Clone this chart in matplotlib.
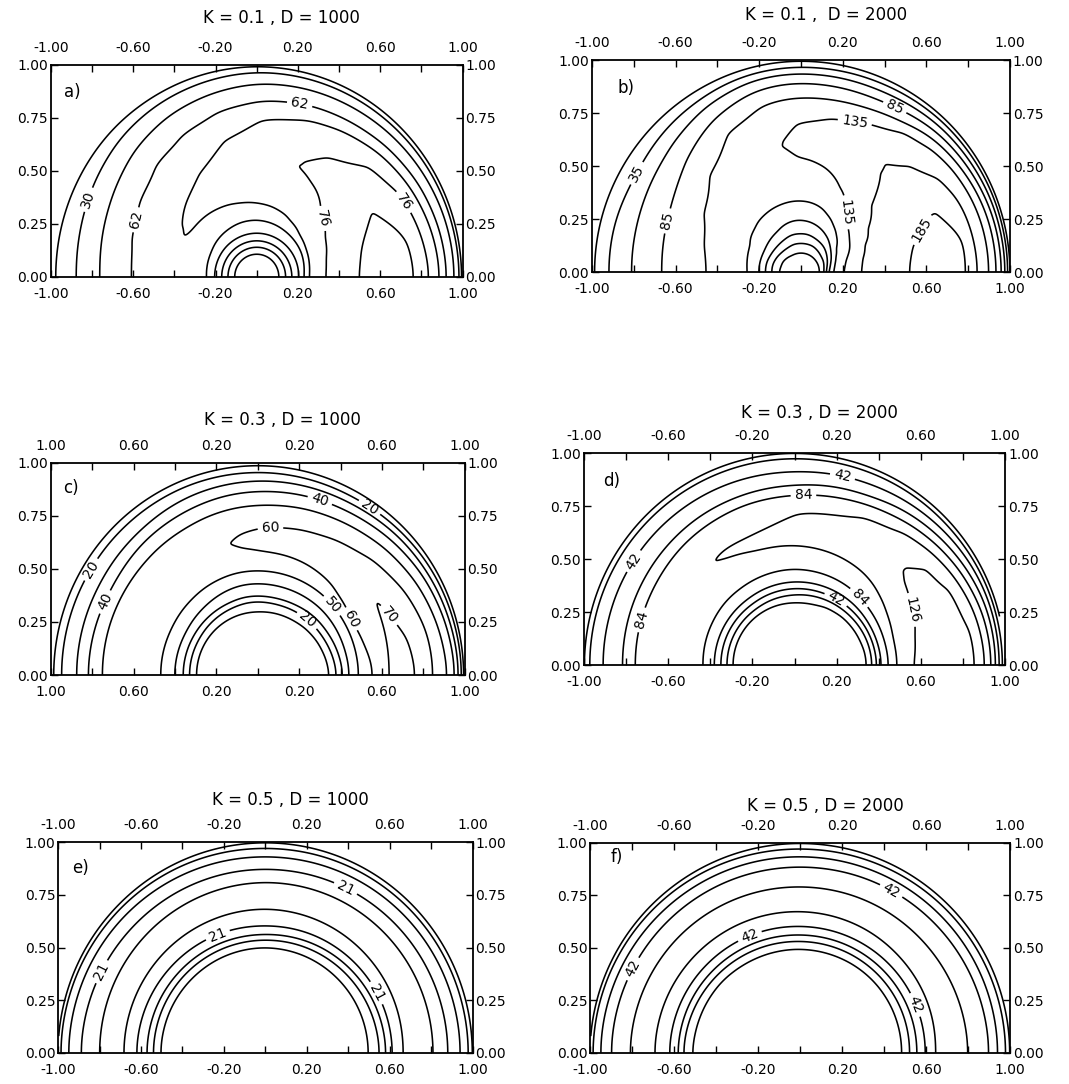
import numpy as np
import matplotlib
matplotlib.use("Agg")
import matplotlib.pyplot as plt

# ---- data ---------------------------------------------------------------
# each panel: ray angles (deg), and along every ray the radii (r) where the
# field takes the listed values (contour crossings + extrema)

titles = ["K = 0.1 , D = 1000", "K = 0.1 ,  D = 2000", "K = 0.3 , D = 1000",
          "K = 0.3 , D = 2000", "K = 0.5 , D = 1000", "K = 0.5 , D = 2000"]
tags = ["a)", "b)", "c)", "d)", "e)", "f)"]

# panel a  K=0.1 D=1000
a_levels = [-2, 14, 30, 46, 62, 69, 76, 83]
a_theta = [0, 15, 30, 45, 60, 72, 90, 105, 120, 135, 150, 165, 180]
a_r = [
    [0, .11, .14, .17, .205, .225, .25, .33, .49, .63, .77, .84, .89, .925, .96, .985, .997, 1],
    [0, .11, .14, .17, .205, .235, .26, .345, .52, .63, .75, .82, .875, .915, .955, .982, .996, 1],
    [0, .11, .14, .17, .205, .245, .27, .38, .64, .795, .855, .90, .945, .978, .995, 1],
    [0, .11, .14, .17, .205, .25, .285, .43, .60, .75, .83, .88, .935, .973, .995, 1],
    [0, .11, .14, .17, .205, .255, .31, .52, .59, .66, .80, .86, .925, .97, .995, 1],
    [0, .11, .14, .17, .205, .26, .33, .56, .78, .85, .92, .968, .995, 1],
    [0, .11, .14, .17, .205, .265, .345, .54, .74, .83, .91, .965, .995, 1],
    [0, .11, .14, .17, .205, .265, .355, .50, .66, .80, .89, .955, .993, 1],
    [0, .11, .14, .17, .205, .26, .37, .46, .56, .76, .87, .945, .99, 1],
    [0, .11, .14, .17, .205, .255, .38, .435, .49, .72, .84, .93, .99, 1],
    [0, .11, .14, .17, .205, .245, .385, .40, .42, .67, .80, .905, .985, 1],
    [0, .11, .14, .17, .205, .24, .42, .635, .775, .885, .982, 1],
    [0, .11, .14, .17, .205, .235, .42, .61, .76, .875, .98, 1],
]
a_v = [
    [-20, -2, 14, 30, 46, 62, 69, 76, 83, 88, 83, 76, 69, 62, 46, 30, 14, 0],
    [-20, -2, 14, 30, 46, 62, 69, 76, 83, 87, 83, 76, 69, 62, 46, 30, 14, 0],
    [-20, -2, 14, 30, 46, 62, 69, 76, 82.5, 76, 69, 62, 46, 30, 14, 0],
    [-20, -2, 14, 30, 46, 62, 69, 76, 79, 76, 69, 62, 46, 30, 14, 0],
    [-20, -2, 14, 30, 46, 62, 69, 76, 77.5, 76, 69, 62, 46, 30, 14, 0],
    [-20, -2, 14, 30, 46, 62, 69, 75.8, 69, 62, 46, 30, 14, 0],
    [-20, -2, 14, 30, 46, 62, 69, 73, 69, 62, 46, 30, 14, 0],
    [-20, -2, 14, 30, 46, 62, 69, 72, 69, 62, 46, 30, 14, 0],
    [-20, -2, 14, 30, 46, 62, 69, 71, 69, 62, 46, 30, 14, 0],
    [-20, -2, 14, 30, 46, 62, 69, 70.5, 69, 62, 46, 30, 14, 0],
    [-20, -2, 14, 30, 46, 62, 69, 69.8, 69, 62, 46, 30, 14, 0],
    [-20, -2, 14, 30, 46, 62, 66, 62, 46, 30, 14, 0],
    [-20, -2, 14, 30, 46, 62, 65, 62, 46, 30, 14, 0],
]

# panel b  K=0.1 D=2000
b_levels = [10, 35, 60, 85, 110, 135, 160, 185]
b_theta = [0, 15, 25, 35, 45, 55, 65, 80, 95, 105, 120, 135, 150, 165, 180]
b_r = [
    [0, .09, .11, .12, .13, .15, .20, .28, .51, .65, .79, .845, .90, .935, .96, .977, .99, .999, 1],
    [0, .09, .115, .13, .145, .165, .22, .30, .55, .68, .79, .835, .895, .93, .955, .972, .988, .998, 1],
    [0, .09, .12, .14, .16, .18, .26, .33, .70, .82, .885, .92, .945, .967, .986, .998, 1],
    [0, .09, .12, .15, .175, .20, .28, .38, .60, .79, .87, .905, .935, .96, .982, .998, 1],
    [0, .09, .125, .16, .195, .24, .31, .46, .60, .72, .85, .89, .925, .955, .98, .998, 1],
    [0, .09, .13, .165, .21, .27, .36, .65, .82, .855, .905, .945, .975, .997, 1],
    [0, .09, .135, .17, .225, .30, .44, .60, .77, .835, .89, .935, .97, .997, 1],
    [0, .09, .135, .18, .24, .33, .52, .63, .74, .825, .89, .935, .967, .996, 1],
    [0, .09, .135, .18, .245, .335, .54, .62, .70, .82, .89, .935, .965, .996, 1],
    [0, .09, .135, .18, .24, .33, .60, .805, .88, .93, .962, .995, 1],
    [0, .09, .13, .17, .22, .32, .53, .74, .83, .90, .945, .992, 1],
    [0, .095, .13, .165, .21, .30, .46, .63, .76, .86, .93, .99, 1],
    [0, .10, .135, .165, .20, .27, .40, .54, .70, .83, .91, .99, 1],
    [0, .10, .14, .17, .20, .26, .37, .48, .675, .815, .92, .99, 1],
    [0, .105, .14, .17, .20, .25, .35, .45, .665, .81, .92, .99, 1],
]
b_v = [
    [-30, 10, 35, 60, 85, 110, 135, 160, 185, 200, 185, 160, 135, 110, 85, 60, 35, 10, 0],
    [-30, 10, 35, 60, 85, 110, 135, 160, 185, 195, 185, 160, 135, 110, 85, 60, 35, 10, 0],
    [-30, 10, 35, 60, 85, 110, 135, 160, 185, 160, 135, 110, 85, 60, 35, 10, 0],
    [-30, 10, 35, 60, 85, 110, 135, 160, 175, 160, 135, 110, 85, 60, 35, 10, 0],
    [-30, 10, 35, 60, 85, 110, 135, 160, 166, 160, 135, 110, 85, 60, 35, 10, 0],
    [-30, 10, 35, 60, 85, 110, 135, 159, 135, 110, 85, 60, 35, 10, 0],
    [-30, 10, 35, 60, 85, 110, 135, 150, 135, 110, 85, 60, 35, 10, 0],
    [-30, 10, 35, 60, 85, 110, 135, 142, 135, 110, 85, 60, 35, 10, 0],
    [-30, 10, 35, 60, 85, 110, 135, 138, 135, 110, 85, 60, 35, 10, 0],
    [-30, 10, 35, 60, 85, 110, 132, 110, 85, 60, 35, 10, 0],
    [-30, 10, 35, 60, 85, 110, 124, 110, 85, 60, 35, 10, 0],
    [-30, 10, 35, 60, 85, 110, 120, 110, 85, 60, 35, 10, 0],
    [-30, 10, 35, 60, 85, 110, 118, 110, 85, 60, 35, 10, 0],
    [-30, 10, 35, 60, 85, 110, 117, 110, 85, 60, 35, 10, 0],
    [-30, 10, 35, 60, 85, 110, 117, 110, 85, 60, 35, 10, 0],
]

# panel c  K=0.3 D=1000
c_levels = [10, 20, 30, 40, 50, 60, 70]
c_theta = [0, 15, 30, 45, 60, 75, 90, 100, 110, 130, 150, 180]
c_r = [
    [0, .35, .38, .41, .44, .485, .557, .63, .70, .767, .847, .92, .955, .97, .985, .997, 1],
    [0, .34, .37, .40, .435, .485, .53, .64, .69, .74, .84, .90, .94, .96, .98, .996, 1],
    [0, .33, .36, .39, .435, .487, .51, .67, .81, .88, .925, .95, .975, .995, 1],
    [0, .32, .355, .385, .435, .49, .54, .66, .775, .855, .905, .94, .965, .993, 1],
    [0, .31, .35, .375, .432, .49, .565, .65, .74, .83, .885, .925, .955, .99, 1],
    [0, .305, .345, .37, .43, .49, .576, .645, .715, .815, .875, .92, .955, .99, 1],
    [0, .30, .346, .37, .43, .49, .58, .64, .695, .80, .865, .915, .955, .99, 1],
    [0, .30, .345, .37, .43, .49, .60, .635, .67, .795, .86, .91, .955, .99, 1],
    [0, .30, .34, .365, .425, .485, .63, .785, .85, .905, .955, .99, 1],
    [0, .30, .335, .362, .41, .475, .62, .77, .835, .885, .952, .99, 1],
    [0, .30, .33, .36, .40, .467, .61, .76, .815, .875, .95, .99, 1],
    [0, .30, .33, .36, .40, .465, .61, .755, .82, .875, .95, .99, 1],
]
c_v = [
    [-10, 10, 20, 30, 40, 50, 60, 70, 74, 70, 60, 50, 40, 30, 20, 10, 0],
    [-10, 10, 20, 30, 40, 50, 60, 70, 72, 70, 60, 50, 40, 30, 20, 10, 0],
    [-10, 10, 20, 30, 40, 50, 60, 71, 60, 50, 40, 30, 20, 10, 0],
    [-10, 10, 20, 30, 40, 50, 60, 66, 60, 50, 40, 30, 20, 10, 0],
    [-10, 10, 20, 30, 40, 50, 60, 64, 60, 50, 40, 30, 20, 10, 0],
    [-10, 10, 20, 30, 40, 50, 60, 63, 60, 50, 40, 30, 20, 10, 0],
    [-10, 10, 20, 30, 40, 50, 60, 62, 60, 50, 40, 30, 20, 10, 0],
    [-10, 10, 20, 30, 40, 50, 60, 61.5, 60, 50, 40, 30, 20, 10, 0],
    [-10, 10, 20, 30, 40, 50, 57, 50, 40, 30, 20, 10, 0],
    [-10, 10, 20, 30, 40, 50, 55, 50, 40, 30, 20, 10, 0],
    [-10, 10, 20, 30, 40, 50, 54, 50, 40, 30, 20, 10, 0],
    [-10, 10, 20, 30, 40, 50, 54, 50, 40, 30, 20, 10, 0],
]

# panel d  K=0.3 D=2000
d_levels = [0, 21, 42, 63, 84, 105, 126]
d_theta = [0, 15, 30, 40, 50, 65, 90, 110, 125, 135, 150, 180]
d_r = [
    [0, .35, .366, .39, .41, .445, .485, .548, .70, .865, .905, .935, .955, .972, .988, .998, 1],
    [0, .345, .362, .385, .405, .44, .48, .585, .70, .85, .89, .925, .95, .97, .987, .998, 1],
    [0, .335, .355, .38, .40, .44, .50, .62, .70, .815, .86, .90, .93, .96, .983, .998, 1],
    [0, .33, .35, .375, .40, .44, .52, .65, .70, .77, .835, .88, .915, .95, .98, .998, 1],
    [0, .325, .345, .372, .398, .445, .54, .68, .81, .86, .90, .94, .98, .998, 1],
    [0, .315, .34, .365, .395, .448, .55, .66, .77, .83, .87, .925, .978, .998, 1],
    [0, .30, .33, .36, .39, .45, .56, .64, .715, .80, .845, .91, .975, .998, 1],
    [0, .30, .325, .355, .385, .445, .565, .60, .64, .79, .835, .91, .975, .998, 1],
    [0, .30, .32, .35, .38, .44, .60, .62, .64, .78, .83, .91, .975, .998, 1],
    [0, .30, .32, .35, .38, .44, .62, .775, .825, .91, .975, .998, 1],
    [0, .30, .32, .35, .38, .435, .60, .765, .82, .91, .975, .998, 1],
    [0, .30, .32, .35, .38, .43, .60, .76, .815, .91, .975, .998, 1],
]
d_v = [
    [-10, 0, 21, 42, 63, 84, 105, 126, 135, 126, 105, 84, 63, 42, 21, 0, -5],
    [-10, 0, 21, 42, 63, 84, 105, 126, 133, 126, 105, 84, 63, 42, 21, 0, -5],
    [-10, 0, 21, 42, 63, 84, 105, 126, 130, 126, 105, 84, 63, 42, 21, 0, -5],
    [-10, 0, 21, 42, 63, 84, 105, 126, 128, 126, 105, 84, 63, 42, 21, 0, -5],
    [-10, 0, 21, 42, 63, 84, 105, 121, 105, 84, 63, 42, 21, 0, -5],
    [-10, 0, 21, 42, 63, 84, 105, 113, 105, 84, 63, 42, 21, 0, -5],
    [-10, 0, 21, 42, 63, 84, 105, 110, 105, 84, 63, 42, 21, 0, -5],
    [-10, 0, 21, 42, 63, 84, 105, 108, 105, 84, 63, 42, 21, 0, -5],
    [-10, 0, 21, 42, 63, 84, 105, 106.5, 105, 84, 63, 42, 21, 0, -5],
    [-10, 0, 21, 42, 63, 84, 103, 84, 63, 42, 21, 0, -5],
    [-10, 0, 21, 42, 63, 84, 96, 84, 63, 42, 21, 0, -5],
    [-10, 0, 21, 42, 63, 84, 95, 84, 63, 42, 21, 0, -5],
]

# panel e  K=0.5 D=1000
e_levels = [0, 7, 14, 21, 28]
e_theta = [0, 45, 90, 135, 180]
e_r = [
    [0, .50, .55, .58, .61, .66, .735, .81, .88, .94, .98, .997, 1],
    [0, .50, .54, .57, .605, .67, .74, .81, .875, .935, .975, .997, 1],
    [0, .504, .535, .56, .60, .68, .745, .81, .87, .93, .97, .997, 1],
    [0, .505, .537, .565, .61, .68, .74, .805, .875, .94, .98, .997, 1],
    [0, .51, .54, .57, .62, .68, .74, .80, .89, .95, .99, .998, 1],
]
e_v = [[-10, 0, 7, 14, 21, 28, 31, 28, 21, 14, 7, 0, -2]] * 5

# panel f  K=0.5 D=2000
f_levels = [0, 14, 28, 42, 56]
f_theta = [0, 45, 90, 135, 180]
f_r = [
    [0, .49, .52, .555, .595, .64, .72, .80, .90, .94, .98, .997, 1],
    [0, .495, .525, .557, .597, .655, .73, .79, .89, .935, .975, .997, 1],
    [0, .50, .53, .56, .60, .67, .73, .79, .885, .933, .97, .997, 1],
    [0, .51, .54, .57, .61, .68, .74, .80, .89, .94, .98, .997, 1],
    [0, .52, .555, .58, .62, .69, .75, .81, .90, .95, .99, .998, 1],
]
f_v = [[-10, 0, 14, 28, 42, 56, 62, 56, 42, 28, 14, 0, -4]] * 5

xtick_vals = [-1.0, -0.8, -0.6, -0.4, -0.2, 0.0, 0.2, 0.4, 0.6, 0.8, 1.0]
xtick_text = ["-1.00", "", "-0.60", "", "-0.20", "", "0.20", "", "0.60", "", "1.00"]
xtick_text_c = ["1.00", "", "0.60", "", "0.20", "", "0.20", "", "0.60", "", "1.00"]
ytick_vals = [0.0, 0.25, 0.5, 0.75, 1.0]
ytick_text = ["0.00", "0.25", "0.50", "0.75", "1.00"]

# ---- layout --------------------------------------------------------------
positions = [(0.0477, 0.7445, 0.385, 0.1956), (0.5538, 0.749, 0.391, 0.1956),
             (0.0477, 0.3773, 0.387, 0.1956), (0.5463, 0.3865, 0.394, 0.1956),
             (0.0543, 0.0286, 0.388, 0.1946), (0.552, 0.0286, 0.393, 0.194)]
title_y = [1.222, 1.212, 1.203, 1.189, 1.2, 1.176]
tag_xy = [(-0.935, 0.87), (-0.88, 0.87), (-0.94, 0.88), (-0.91, 0.87), (-0.93, 0.875), (-0.9, 0.93)]

label_pos = [
    {30: [(-0.81, 0.36)], 62: [(-0.585, 0.27), (0.21, 0.82)], 76: [(0.33, 0.28), (0.725, 0.36)]},
    {35: [(-0.785, 0.465)], 85: [(-0.64, 0.24), (0.44, 0.76)], 135: [(0.26, 0.71), (0.21, 0.28)],
     185: [(0.58, 0.2)]},
    {20: [(-0.81, 0.5), (0.54, 0.79), (0.24, 0.26)], 40: [(-0.73, 0.34), (0.3, 0.83)],
     60: [(0.06, 0.70), (0.44, 0.26)], 70: [(0.62, 0.27)], 50: [(0.34, 0.31)]},
    {42: [(0.23, 0.90), (-0.78, 0.5), (0.19, 0.3)], 84: [(0.04, 0.80), (-0.72, 0.21), (0.3, 0.31)],
     126: [(0.55, 0.26)]},
    {21: [(-0.237, 0.575), (0.53, 0.28), (0.39, 0.79), (-0.78, 0.38)]},
    {42: [(-0.24, 0.56), (0.56, 0.235), (0.43, 0.77), (-0.78, 0.39)]},
]

panels = [(a_theta, a_r, a_v, a_levels), (b_theta, b_r, b_v, b_levels),
          (c_theta, c_r, c_v, c_levels), (d_theta, d_r, d_v, d_levels),
          (e_theta, e_r, e_v, e_levels), (f_theta, f_r, f_v, f_levels)]


def gauss_smooth(z, n, axis, mode):
    k = np.arange(-3 * n, 3 * n + 1)
    w = np.exp(-0.5 * (k / n) ** 2)
    w /= w.sum()
    pad = [(0, 0), (0, 0)]
    pad[axis] = (3 * n, 3 * n)
    zp = np.pad(z, pad, mode=mode)
    return np.apply_along_axis(lambda c: np.convolve(c, w, mode="valid"), axis, zp)


def build_field(theta, rays_r, rays_v):
    r = np.linspace(0, 1, 500)
    t = np.linspace(0, 180, 541)
    prof = np.array([np.interp(r, rr, vv) for rr, vv in zip(rays_r, rays_v)])
    z = np.array([np.interp(t, theta, prof[:, i]) for i in range(r.size)]).T
    # soften the corners left by the ray-to-ray interpolation
    z = gauss_smooth(z, 15, 0, "reflect")
    z = gauss_smooth(z, 3, 1, "edge")
    tt = np.radians(t)[:, None]
    return r * np.cos(tt), r * np.sin(tt), z


def snap(cs, lev, pt):
    # nearest vertex of the wanted level, so clabel picks that line
    k = list(cs.levels).index(lev)
    segs = [s for s in cs.allsegs[k] if len(s)]
    pts = np.vstack(segs)
    d = np.hypot(pts[:, 0] - pt[0], pts[:, 1] - pt[1])
    return tuple(pts[d.argmin()])


fig = plt.figure(figsize=(10.69, 10.84), dpi=100)

for i, (theta, rr, vv, levels) in enumerate(panels):
    ax = fig.add_axes(positions[i])
    X, Y, Z = build_field(theta, rr, vv)
    cs = ax.contour(X, Y, Z, levels=levels, colors="k", linewidths=1.15,
                    linestyles="solid")
    manual = [snap(cs, lev, p) for lev, pts in label_pos[i].items() for p in pts]
    ax.clabel(cs, levels=cs.levels, manual=manual, inline=True, fontsize=10,
              fmt="%d", inline_spacing=4)

    ax.set_xlim(-1, 1)
    ax.set_ylim(0, 1)
    ax.set_xticks(xtick_vals)
    ax.set_yticks(ytick_vals)
    ax.set_xticklabels(xtick_text_c if i == 2 else xtick_text)
    ax.set_yticklabels(ytick_text)
    ax.tick_params(axis="both", direction="in", length=5, width=1, labelsize=10,
                   top=True, right=True, labeltop=True, labelright=True)
    ax.tick_params(axis="x", pad=7)
    ax.tick_params(axis="y", pad=2)
    for sp in ax.spines.values():
        sp.set_linewidth(1.3)

    ax.text(0.56, title_y[i], titles[i], transform=ax.transAxes, ha="center",
            va="center", fontsize=12)
    ax.text(tag_xy[i][0], tag_xy[i][1], tags[i], fontsize=12, va="center")

plt.savefig("out.png", dpi=100)
